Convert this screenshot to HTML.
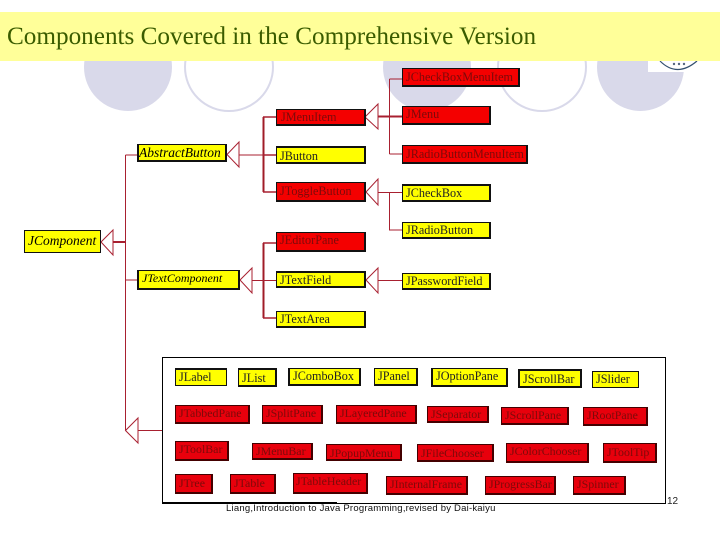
<!DOCTYPE html>
<html><head><meta charset="utf-8"><style>
html,body{margin:0;padding:0;background:#fff}
#p{position:relative;width:720px;height:540px;overflow:hidden;background:#fff;font-family:"Liberation Serif",serif}
.c{position:absolute;border-radius:50%;box-sizing:border-box}
.f{background:#d9d9ea}
.o{border:2px solid #d9d9ea;background:#fff}
.b{position:absolute;box-sizing:border-box;border:1px solid #111;border-width:1px 2px 2px 1px;font-size:12.2px;white-space:nowrap;padding-left:3px;overflow:hidden}
.y{background:#ffff00;color:#222}
.r{background:#f40000;color:#7c0a0a}
.d{background:#e8000c;color:#7c0a0a;border-color:#400;padding-left:3px;font-size:11.9px}
.i{font-style:italic;color:#000}
svg{position:absolute;left:0;top:0}
</style></head><body><div id="p">
<div class="c f" style="left:84px;top:23px;width:88px;height:88px"></div>
<div class="c o" style="left:184px;top:22px;width:90px;height:90px"></div>
<div class="c f" style="left:383px;top:23px;width:88px;height:88px"></div>
<div class="c o" style="left:497px;top:22px;width:90px;height:90px"></div>
<div class="c f" style="left:597px;top:23px;width:87px;height:88px"></div>
<div style="position:absolute;left:648px;top:40px;width:60px;height:32px;background:#fff"></div>
<svg width="720" height="540" style="z-index:1">
<path d="M660 61 Q677 78 697 61" fill="none" stroke="#34506f" stroke-width="1.2"/>
<circle cx="674" cy="64" r="1.2" fill="#55667f"/><circle cx="679" cy="64" r="1.2" fill="#55667f"/><circle cx="684" cy="64" r="1.2" fill="#55667f"/>
</svg>
<div style="position:absolute;z-index:2;left:0;top:12px;width:720px;height:49px;background:#ffff99"></div>
<div style="position:absolute;z-index:3;left:7px;top:22px;font-size:25.2px;line-height:30px;color:#3a5c00;white-space:nowrap">Components Covered in the Comprehensive Version</div>
<svg width="720" height="540" style="z-index:1" fill="none" stroke="#a82030" stroke-width="1">
<path d="M125.500 155H137M125.500 155V430M125.500 280H137M113 242H125" />
<path d="M113 242H125" stroke-width="2"/>
<path d="M101 242L113 230V255Z"/>
<path d="M125.500 430.500L138 418V443ZM138 430.500H163"/>
<path d="M227 154.500L239 142V167ZM239 155H263"/>
<path d="M263.500 117V192M263.500 243V318" stroke="#a01c28" stroke-width="2"/>
<path d="M263 117H276M263 192H276M263 243H276M263 318H276M263 155H276" stroke-width="1.500"/>
<path d="M240 280L252 268V293ZM252 280.500H276"/>
<path d="M365 117L378 104V129Z"/>
<path d="M378 116.500H402" stroke-width="2"/>
<path d="M389.500 79V154M389.500 79H402M389.500 154H402"/>
<path d="M366 192L378 179V205ZM378 192.500H402M389.500 192V230H402"/>
<path d="M366 280L378 268V293ZM378 280.500H402"/>
</svg>
<div style="position:absolute;z-index:2;left:162px;top:357px;width:504px;height:147px;box-sizing:border-box;border:1px solid #000"></div>
<div style="position:absolute;z-index:2;left:162px;top:502px;width:175px;height:2px;background:#000"></div>
<div style="position:absolute;z-index:2;left:0;top:0;width:720px;height:540px">
<div class="b r" style="left:402px;top:68px;width:118px;height:19px;line-height:16px">JCheckBoxMenuItem</div>
<div class="b r" style="left:402px;top:106px;width:89px;height:19px;line-height:15px">JMenu</div>
<div class="b r" style="left:402px;top:145px;width:126px;height:19px;line-height:16px">JRadioButtonMenuItem</div>
<div class="b r" style="left:276px;top:109px;width:90px;height:17px;line-height:15px;padding-left:4px">JMenuItem</div>
<div class="b y" style="left:276px;top:146px;width:90px;height:18px;line-height:16px;border-top-width:2px">JButton</div>
<div class="b r" style="left:276px;top:182px;width:90px;height:20px;line-height:16px">JToggleButton</div>
<div class="b y" style="left:402px;top:184px;width:89px;height:18px;line-height:15px;border-top-width:2px">JCheckBox</div>
<div class="b y" style="left:402px;top:222px;width:89px;height:17px;line-height:15px">JRadioButton</div>
<div class="b r" style="left:276px;top:232px;width:90px;height:20px;line-height:15px">JEditorPane</div>
<div class="b y" style="left:276px;top:271px;width:90px;height:17px;line-height:15px;border-top-width:2px">JTextField</div>
<div class="b y" style="left:276px;top:311px;width:90px;height:17px;line-height:15px">JTextArea</div>
<div class="b y" style="left:402px;top:273px;width:89px;height:17px;line-height:15px">JPasswordField</div>
<div class="b y i" style="left:137px;top:144px;width:90px;height:18px;line-height:16px;padding-left:0;border-left-width:2px;font-size:13.500px">AbstractButton</div>
<div class="b y i" style="left:137px;top:270px;width:103px;height:20px;line-height:15px;padding-left:3px;border-left-width:2px;border-top-width:1px;font-size:12px">JTextComponent</div>
<div class="b y i" style="left:24px;top:230px;width:77px;height:23px;line-height:19px;font-size:13.500px;padding-left:3px;border-width:1px">JComponent</div>

<div class="b y" style="left:175px;top:368px;width:52px;height:18px;line-height:15px;border-width:2px 1px 1px 1px">JLabel</div>
<div class="b y" style="left:238px;top:368px;width:39px;height:19px;line-height:16px;border-top-width:2px">JList</div>
<div class="b y" style="left:288px;top:368px;width:73px;height:18px;line-height:15px;border-left-width:2px">JComboBox</div>
<div class="b y" style="left:374px;top:368px;width:44px;height:18px;line-height:15px">JPanel</div>
<div class="b y" style="left:431px;top:368px;width:77px;height:19px;line-height:15px;border-left-width:2px">JOptionPane</div>
<div class="b y" style="left:518px;top:369px;width:64px;height:19px;line-height:16px;border-width:2px">JScrollBar</div>
<div class="b y" style="left:592px;top:371px;width:47px;height:17px;line-height:15px;border-width:1px">JSlider</div>

<div class="b d" style="left:175px;top:405px;width:75px;height:19px;line-height:15px">JTabbedPane</div>
<div class="b d" style="left:262px;top:405px;width:61px;height:19px;line-height:15px">JSplitPane</div>
<div class="b d" style="left:336px;top:405px;width:81px;height:19px;line-height:15px">JLayeredPane</div>
<div class="b d" style="left:427px;top:406px;width:62px;height:17px;line-height:14px">JSeparator</div>
<div class="b d" style="left:501px;top:407px;width:68px;height:18px;line-height:15px">JScrollPane</div>
<div class="b d" style="left:583px;top:407px;width:65px;height:19px;line-height:15px">JRootPane</div>

<div class="b d" style="left:175px;top:441px;width:54px;height:20px;line-height:15px">JToolBar</div>
<div class="b d" style="left:252px;top:443px;width:61px;height:17px;line-height:15px">JMenuBar</div>
<div class="b d" style="left:326px;top:444px;width:76px;height:17px;line-height:16px">JPopupMenu</div>
<div class="b d" style="left:417px;top:444px;width:77px;height:18px;line-height:16px">JFileChooser</div>
<div class="b d" style="left:506px;top:443px;width:83px;height:20px;line-height:15px">JColorChooser</div>
<div class="b d" style="left:603px;top:443px;width:54px;height:20px;line-height:16px">JToolTip</div>

<div class="b d" style="left:175px;top:474px;width:38px;height:20px;line-height:16px">JTree</div>
<div class="b d" style="left:230px;top:474px;width:46px;height:20px;line-height:16px">JTable</div>
<div class="b d" style="left:293px;top:473px;width:75px;height:21px;line-height:14px;padding-left:2px">JTableHeader</div>
<div class="b d" style="left:386px;top:476px;width:82px;height:19px;line-height:15px">JInternalFrame</div>
<div class="b d" style="left:485px;top:476px;width:71px;height:19px;line-height:15px">JProgressBar</div>
<div class="b d" style="left:573px;top:476px;width:53px;height:19px;line-height:15px">JSpinner</div>
</div>
<div style="position:absolute;z-index:3;left:226px;top:502px;font:9.500px/14px 'Liberation Sans',sans-serif;letter-spacing:.22px;color:#111;white-space:nowrap">Liang,Introduction to Java Programming,revised by Dai-kaiyu</div>
<div style="position:absolute;z-index:3;left:667px;top:496px;font:10px/12px 'Liberation Sans',sans-serif;color:#222">12</div>
</div></body></html>
